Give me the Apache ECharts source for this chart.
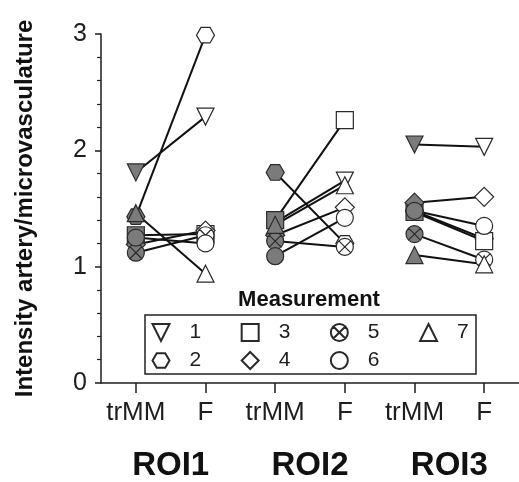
<!DOCTYPE html>
<html>
<head>
<meta charset="utf-8">
<script src="https://cdn.jsdelivr.net/npm/echarts@6/dist/echarts.min.js"></script>
<style>
html,body{margin:0;padding:0;background:#fff;}
#chart{width:519px;height:482px;}
</style>
</head>
<body>
<div id="chart"></div>
<script>
// ---- data ----
const categories = ['trMM', 'F', 'trMM', 'F', 'trMM', 'F'];
const rois = ['ROI1', 'ROI2', 'ROI3'];
const measurements = ['1', '2', '3', '4', '5', '6', '7'];
const yTicks = [0, 1, 2, 3];
// values per ROI (ROI1, ROI2, ROI3)
const trmm1 = [1.81, 1.38, 2.05], f1 = [2.29, 1.74, 2.03];
const trmm2 = [1.43, 1.81, 1.48], f2 = [2.99, 1.20, 1.24];
const trmm3 = [1.27, 1.40, 1.47], f3 = [1.28, 2.26, 1.22];
const trmm4 = [1.19, 1.27, 1.55], f4 = [1.31, 1.51, 1.60];
const trmm5 = [1.12, 1.22, 1.28], f5 = [1.27, 1.17, 1.06];
const trmm6 = [1.25, 1.09, 1.48], f6 = [1.20, 1.42, 1.35];
const trmm7 = [1.46, 1.36, 1.10], f7 = [0.94, 1.70, 1.02];

const trmmAll = [trmm1, trmm2, trmm3, trmm4, trmm5, trmm6, trmm7];
const fAll = [f1, f2, f3, f4, f5, f6, f7];

// ---- styles ----
const FONT = 'Liberation Sans, Arial, Helvetica, sans-serif';
const INK = '#1e1e1e';
const GRAY = '#7b7b7b';
const symbols = [
  {symbol: 'path://M0,0L10,0L5,10Z', size: 17},
  {symbol: 'path://M2.5,0L7.5,0L10,4.33L7.5,8.66L2.5,8.66L0,4.33Z', size: 18},
  {symbol: 'rect', size: 17},
  {symbol: 'diamond', size: 19},
  {symbol: 'path://M10,5A5,5,0,1,1,0,5A5,5,0,1,1,10,5ZM1.46,1.46L8.54,8.54M8.54,1.46L1.46,8.54', size: 17},
  {symbol: 'circle', size: 17},
  {symbol: 'triangle', size: 17}
];

const series = [];
// connecting lines
measurements.forEach((m, i) => {
  rois.forEach((r, k) => {
    series.push({
      type: 'line',
      name: m + '_line_' + r,
      xAxisIndex: 0,
      data: [[2 * k, trmmAll[i][k]], [2 * k + 1, fAll[i][k]]],
      symbol: 'none',
      silent: true,
      lineStyle: {color: '#111', width: 2},
      z: 2,
      animation: false
    });
  });
});
// markers
measurements.forEach((m, i) => {
  const pts = [];
  rois.forEach((r, k) => {
    pts.push({value: [2 * k, trmmAll[i][k]], itemStyle: {color: GRAY}});
    pts.push({value: [2 * k + 1, fAll[i][k]]});
  });
  series.push({
    type: 'scatter',
    name: m,
    xAxisIndex: 0,
    data: pts,
    symbol: symbols[i].symbol,
    symbolSize: symbols[i].size,
    symbolKeepAspect: true,
    itemStyle: {color: '#ffffff', borderColor: '#2a2a2a', borderWidth: 1.2, opacity: 1},
    z: 3 + i,
    animation: false
  });
});

const legendCommon = {
  left: 151.5,
  itemWidth: 17,
  itemHeight: 17,
  itemGap: 39.5,
  padding: 0,
  orient: 'horizontal',
  selectedMode: false,
  textStyle: {fontFamily: FONT, fontSize: 21, color: INK, padding: [0, 0, 0, 15]}
};

const chart = echarts.init(document.getElementById('chart'), null, {renderer: 'canvas'});
chart.setOption({
  animation: false,
  backgroundColor: '#fff',
  grid: {left: 101, right: 0, top: 34, bottom: 98.5, containLabel: false},
  xAxis: [
    {
      type: 'category',
      data: categories,
      boundaryGap: true,
      axisLine: {show: true, lineStyle: {color: INK, width: 1.5}},
      axisTick: {show: true, alignWithLabel: true, length: 10, lineStyle: {color: INK, width: 1.5}},
      axisLabel: {fontFamily: FONT, fontSize: 26, color: INK, margin: 17, interval: 0},
      splitLine: {show: false}
    },
    {
      type: 'category',
      data: rois,
      position: 'bottom',
      offset: 58,
      boundaryGap: true,
      axisLine: {show: false},
      axisTick: {show: false},
      axisLabel: {fontFamily: FONT, fontSize: 33, fontWeight: 'bold', color: '#111', margin: 8, interval: 0},
      splitLine: {show: false}
    }
  ],
  yAxis: {
    type: 'value',
    min: yTicks[0],
    max: yTicks[yTicks.length - 1],
    interval: 1,
    name: 'Intensity artery/microvasculature',
    nameLocation: 'middle',
    nameGap: 64,
    nameTextStyle: {fontFamily: FONT, fontSize: 24, fontWeight: 'bold', color: '#111'},
    axisLine: {show: true, lineStyle: {color: INK, width: 1.5}},
    axisTick: {show: true, length: 6, lineStyle: {color: INK, width: 1.5}},
    minorTick: {show: true, splitNumber: 5, length: 4, lineStyle: {color: INK, width: 1.2}},
    axisLabel: {fontFamily: FONT, fontSize: 25, color: INK, margin: 14},
    splitLine: {show: false}
  },
  legend: [
    Object.assign({}, legendCommon, {top: 322, data: ['1', '3', '5', '7']}),
    Object.assign({}, legendCommon, {top: 350, data: ['2', '4', '6']})
  ],
  graphic: [
    {
      type: 'rect',
      shape: {x: 145, y: 315, width: 331, height: 59},
      style: {fill: 'none', stroke: '#222', lineWidth: 1.5},
      silent: true
    },
    {
      type: 'text',
      x: 309,
      y: 300,
      style: {text: 'Measurement', font: 'bold 22px ' + FONT, fill: '#111', textAlign: 'center', textVerticalAlign: 'middle'},
      silent: true
    }
  ],
  series: series
});
</script>
</body>
</html>
